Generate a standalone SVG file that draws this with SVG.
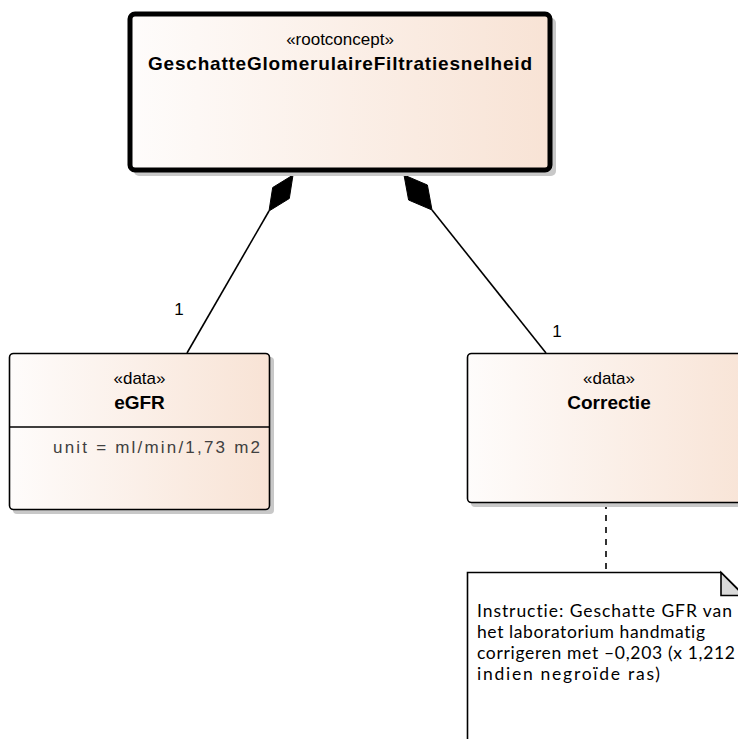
<svg xmlns="http://www.w3.org/2000/svg" width="738" height="739" viewBox="0 0 738 739">
  <defs>
    <linearGradient id="fillGrad" x1="0" y1="0" x2="1" y2="0">
      <stop offset="0" stop-color="#FEFCFB"/>
      <stop offset="1" stop-color="#F8E3D5"/>
    </linearGradient>
    <style>
      .shadow { fill: #C8C8C8; stroke: none; }
      .box { fill: url(#fillGrad); stroke: #000; stroke-width: 1.6; }
      .root { fill: url(#fillGrad); stroke: #000; stroke-width: 5; }
      .stereo { font-family: "Liberation Sans", Arial, sans-serif; font-size: 17px; fill: #000; text-anchor: middle; }
      .name { font-family: "Liberation Sans", Arial, sans-serif; font-size: 19px; font-weight: bold; fill: #000; text-anchor: middle; }
      .attr { font-family: "Liberation Sans", Arial, sans-serif; font-size: 17px; fill: #404040; }
      .mult { font-family: "Liberation Sans", Arial, sans-serif; font-size: 17px; fill: #000; text-anchor: middle; }
      .conn { stroke: #000; stroke-width: 1.6; fill: none; }
      .dash { stroke: #000; stroke-width: 1.6; fill: none; stroke-dasharray: 6 6; }
      .diamond { fill: #000; stroke: #000; stroke-width: 1; }
      .note { fill: #FFFFFF; stroke: #000; stroke-width: 1.6; }
      .fold { fill: #D9D9D9; stroke: #000; stroke-width: 1.6; }
      .notetext { font-family: Lato, "Open Sans", sans-serif; font-size: 17.5px; fill: #000; font-variant-ligatures: none; }
    </style>
  </defs>
  <rect width="738" height="739" fill="#FFFFFF"/>

  <g id="connectors">
    <line class="conn" x1="269" y1="211" x2="187" y2="353"/>
    <polygon class="diamond" points="293,175 289.3,198.5 269,211 272.7,187.5"/>
    <line class="conn" x1="432" y1="210" x2="546" y2="353"/>
    <polygon class="diamond" points="404,175 427.4,185 432,210 408.6,200"/>
    <line class="dash" x1="606" y1="503" x2="606" y2="572"/>
    <text class="mult" x="179" y="315">1</text>
    <text class="mult" x="557" y="337">1</text>
  </g>

  <g id="node-root">
    <rect class="shadow" x="134" y="18" width="422" height="158" rx="5"/>
    <rect class="root" x="130" y="14" width="420" height="156" rx="5"/>
    <text class="stereo" x="340" y="45">«rootconcept»</text>
    <text class="name" x="340" y="70" textLength="384" lengthAdjust="spacing">GeschatteGlomerulaireFiltratiesnelheid</text>
  </g>

  <g id="node-egfr">
    <rect class="shadow" x="13" y="357" width="261" height="157" rx="4"/>
    <rect class="box" x="9.5" y="353.5" width="260" height="156" rx="4"/>
    <line class="conn" x1="9.5" y1="427" x2="269.5" y2="427"/>
    <text class="stereo" x="139.5" y="384">«data»</text>
    <text class="name" x="139.5" y="409">eGFR</text>
    <text class="attr" x="53" y="453" textLength="207" lengthAdjust="spacing">unit = ml/min/1,73 m2</text>
  </g>

  <g id="node-correctie">
    <rect class="shadow" x="471" y="357" width="292" height="150" rx="4"/>
    <rect class="box" x="467.5" y="353.5" width="290" height="149" rx="4"/>
    <text class="stereo" x="609" y="384">«data»</text>
    <text class="name" x="609" y="409">Correctie</text>
  </g>

  <g id="node-note">
    <path class="note" d="M467.5,572.5 H721 L744,595.5 V760 H467.5 Z"/>
    <path class="fold" d="M721,572.5 V595.5 H744 Z"/>
    <text class="notetext" x="477" y="617" textLength="255" lengthAdjust="spacing">Instructie: Geschatte GFR van</text>
    <text class="notetext" x="477" y="638" textLength="228" lengthAdjust="spacing">het laboratorium handmatig</text>
    <text class="notetext" x="477" y="659" textLength="258" lengthAdjust="spacing">corrigeren met –0,203 (x 1,212</text>
    <text class="notetext" x="477" y="680" textLength="183" lengthAdjust="spacing">indien negroïde ras)</text>
  </g>
</svg>
